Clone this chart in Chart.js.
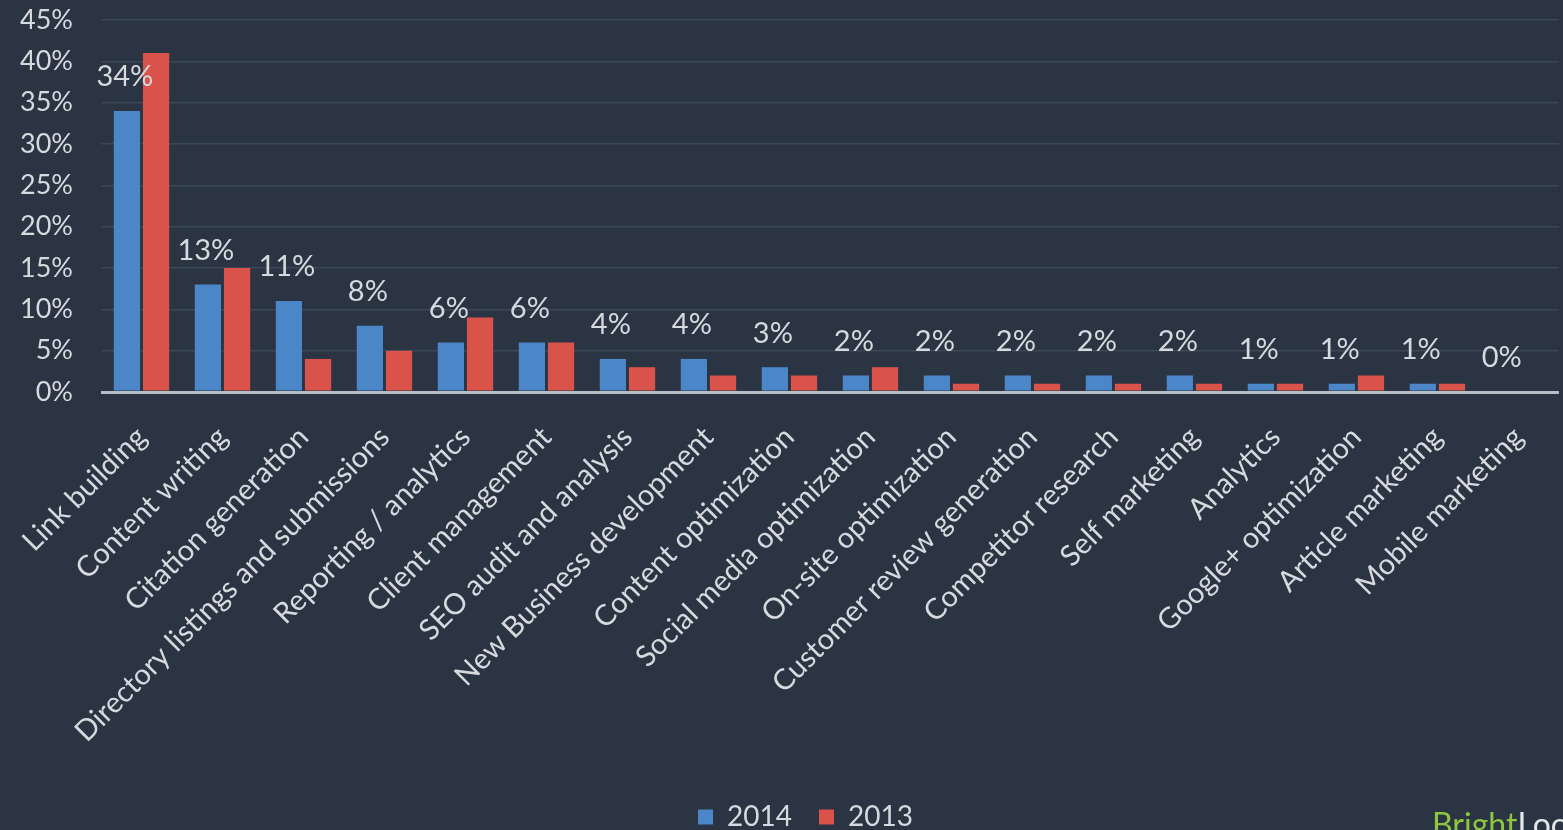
<!DOCTYPE html>
<html>
<head>
<meta charset="utf-8">
<script src="https://cdn.jsdelivr.net/npm/chart.js@4"></script>
<style>
  html, body { margin: 0; padding: 0; background: #2b3443; overflow: hidden; }
  #wrap { position: relative; width: 1563px; height: 830px; }
  #brand { position: absolute; left: 1432px; top: 808px; font: 32px/1 Lato, sans-serif; color: #e4e7ea; white-space: nowrap; }
  #brand span { color: #8dc63f; }
</style>
</head>
<body>
<div id="wrap">
  <canvas id="chart" width="1563" height="830"></canvas>
  <div id="brand"><span>Bright</span>Local</div>
</div>
<script>
const categories = [
  'Link building', 'Content writing', 'Citation generation',
  'Directory listings and submissions', 'Reporting / analytics',
  'Client management', 'SEO audit and analysis', 'New Business development',
  'Content optimization', 'Social media optimization', 'On-site optimization',
  'Customer review generation', 'Competitor research', 'Self marketing',
  'Analytics', 'Google+ optimization', 'Article marketing', 'Mobile marketing'
];
const values2014 = [34, 13, 11, 8, 6, 6, 4, 4, 3, 2, 2, 2, 2, 2, 1, 1, 1, 0];
const values2013 = [41, 15, 4, 5, 9, 6, 3, 2, 2, 3, 1, 1, 1, 1, 1, 2, 1, 0];
const yTicks = [0, 5, 10, 15, 20, 25, 30, 35, 40, 45];

const textColor = '#d6dadf';
const font = 'Lato, "Open Sans", sans-serif';

// paint the dark backdrop behind everything
const backdrop = {
  id: 'backdrop',
  beforeDraw(chart) {
    const ctx = chart.ctx;
    ctx.save();
    ctx.fillStyle = '#2b3443';
    ctx.fillRect(0, 0, chart.width, chart.height);
    ctx.restore();
  }
};

// nudge the legend row a little to the right of the canvas centre
const legendShift = {
  id: 'legendShift',
  afterLayout(chart) {
    if (chart.legend) {
      chart.legend.left += 24;
      chart.legend.right += 24;
    }
  }
};

// percentage labels above the 2014 bars
const valueLabels = {
  id: 'valueLabels',
  afterDatasetsDraw(chart) {
    const ctx = chart.ctx;
    const meta = chart.getDatasetMeta(0);
    ctx.save();
    ctx.fillStyle = textColor;
    ctx.font = '29px ' + font;
    ctx.textAlign = 'center';
    ctx.textBaseline = 'middle';
    meta.data.forEach((bar, i) => {
      ctx.fillText(values2014[i] + '%', bar.x - 2, bar.y - 34);
    });
    ctx.restore();
  }
};

new Chart(document.getElementById('chart').getContext('2d'), {
  type: 'bar',
  data: {
    labels: categories,
    datasets: [
      { label: '2014', data: values2014, backgroundColor: '#4a86c8' },
      { label: '2013', data: values2013, backgroundColor: '#d9534b' }
    ]
  },
  options: {
    responsive: false,
    animation: false,
    events: [],
    categoryPercentage: 0.72,
    barPercentage: 0.9,
    // the legend row may run a little past the bottom edge
    layout: { padding: { top: 0, right: 0, bottom: -11, left: 0 } },
    plugins: {
      tooltip: { enabled: false },
      legend: {
        position: 'bottom',
        labels: {
          color: textColor,
          font: { size: 28, family: font },
          boxWidth: 15,
          boxHeight: 15,
          padding: 27
        }
      }
    },
    scales: {
      x: {
        grid: { display: false },
        border: { display: false },
        ticks: {
          color: textColor,
          font: { size: 29, family: font },
          minRotation: 45,
          maxRotation: 45,
          padding: 20
        },
        afterFit(scale) { scale.height = 384; }
      },
      y: {
        min: 0,
        max: 45,
        afterBuildTicks(scale) { scale.ticks = yTicks.map(v => ({ value: v })); },
        grid: {
          color: ctx => ctx.tick.value === 0 ? '#b4bcc6' : '#3c4757',
          lineWidth: ctx => ctx.tick.value === 0 ? 3 : 1.5,
          drawTicks: false
        },
        border: { display: false },
        ticks: {
          color: textColor,
          font: { size: 27, family: font },
          padding: 28,
          callback: v => v + '%'
        },
        afterFit(scale) {
          scale.width = 101;
          scale.paddingTop = 20;
        }
      }
    }
  },
  plugins: [backdrop, legendShift, valueLabels]
});
</script>
</body>
</html>
